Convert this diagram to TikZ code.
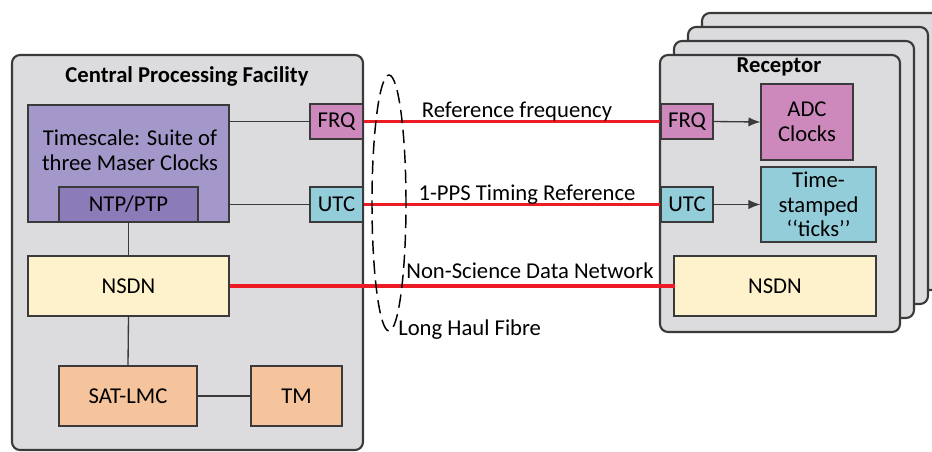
\documentclass[tikz,border=0pt]{standalone}
\usepackage{fontspec}
\setmainfont{Carlito}
\usetikzlibrary{shapes.geometric,arrows.meta}
\definecolor{panelgray}{HTML}{DCDCDE}
\definecolor{tspurple}{HTML}{A398C9}
\definecolor{ntppurple}{HTML}{8B7CB9}
\definecolor{frqpink}{HTML}{CD88BC}
\definecolor{utcblue}{HTML}{94CDDA}
\definecolor{nsdnyel}{HTML}{FEF2CC}
\definecolor{orng}{HTML}{F6C49C}
\definecolor{linkred}{HTML}{ED1C24}
\definecolor{edge}{HTML}{3A3A3A}
\tikzset{
  panel/.style={draw=edge, line width=1.6pt, rounded corners=6pt, fill=panelgray, inner sep=0pt},
  blk/.style={draw=edge, line width=0.8pt, inner sep=0pt, align=center, font=\fontsize{17}{18.5}\selectfont},
  ttl/.style={font=\fontsize{17}{19}\selectfont\bfseries, inner sep=0pt},
  lbl/.style={font=\fontsize{17}{19}\selectfont, inner sep=0pt},
  conn/.style={draw=edge, line width=1pt},
  redthin/.style={draw=linkred, line width=1.6pt},
  redthick/.style={draw=linkred, line width=3.6pt},
  arr/.style={draw=edge, line width=1pt, -{Latex[length=9pt,width=7pt]}},
}
\begin{document}
\begin{tikzpicture}[x=0.75pt,y=-0.75pt]
\useasboundingbox (0,0) rectangle (932,451);
% Central processing facility
\node[panel, minimum width=351*0.75pt, minimum height=395*0.75pt] (cpf) at (187.5,252.5) {};
\node[ttl] (cpftitle) at (187,76) {Central Processing Facility};
\node[blk, fill=tspurple, minimum width=201*0.75pt, minimum height=117*0.75pt] (ts) at (128.5,163.5) {};
\node[lbl, align=center] (tstext) at (130,150) {Timescale: Suite of\\three Maser Clocks};
\node[blk, fill=ntppurple, minimum width=139*0.75pt, minimum height=35*0.75pt] (ntp) at (128.5,204.5) {NTP/PTP};
\node[blk, fill=frqpink, minimum width=53*0.75pt, minimum height=35*0.75pt] (frq1) at (336.5,121.5) {FRQ};
\node[blk, fill=utcblue, minimum width=53*0.75pt, minimum height=35*0.75pt] (utc1) at (336.5,204.5) {UTC};
\node[blk, fill=nsdnyel, minimum width=201*0.75pt, minimum height=60*0.75pt] (nsdn1) at (128.5,286) {NSDN};
\node[blk, fill=orng, minimum width=138*0.75pt, minimum height=60*0.75pt] (sat) at (128,396) {SAT-LMC};
\node[blk, fill=orng, minimum width=91*0.75pt, minimum height=60*0.75pt] (tm) at (296.5,396) {TM};
% Receptor stack
\node[panel, minimum width=240*0.75pt, minimum height=277*0.75pt] (rec4) at (822,151.5) {};
\node[panel, minimum width=240*0.75pt, minimum height=277*0.75pt] (rec3) at (808,165.5) {};
\node[panel, minimum width=240*0.75pt, minimum height=277*0.75pt] (rec2) at (794,179.5) {};
\node[panel, minimum width=240*0.75pt, minimum height=277*0.75pt] (rec) at (780,193.5) {};
\node[ttl] (rectitle) at (779,67) {Receptor};
\node[blk, fill=frqpink, minimum width=52*0.75pt, minimum height=35*0.75pt] (frq2) at (687,121.5) {FRQ};
\node[blk, fill=utcblue, minimum width=52*0.75pt, minimum height=35*0.75pt] (utc2) at (687,204.5) {UTC};
\node[blk, fill=frqpink, minimum width=92*0.75pt, minimum height=76*0.75pt] (adc) at (807,122) {ADC\\Clocks};
\node[blk, fill=utcblue, minimum width=115*0.75pt, minimum height=75*0.75pt] (tsd) at (818.5,204.5) {Time-\\stamped\\‘‘ticks’’};
\node[blk, fill=nsdnyel, minimum width=202*0.75pt, minimum height=60*0.75pt] (nsdn2) at (775,286) {NSDN};
% internal connectors
\draw[conn] (ts.east |- frq1) -- (frq1.west);
\draw[conn] (ts.east |- utc1) -- (utc1.west);
\draw[conn] (ntp.south) -- (nsdn1.north);
\draw[conn] (nsdn1.south) -- (sat.north);
\draw[conn] (sat.east) -- (tm.west);
\draw[arr] (frq2.east) -- (adc.west);
\draw[arr] (utc2.east) -- (tsd.west);
% long haul links
\draw[redthin] (frq1.east) -- (frq2.west);
\draw[redthin] (utc1.east) -- (utc2.west);
\coordinate (nsdnend) at ([xshift=2*0.75pt]nsdn2.west);
\draw[redthick] (nsdn1.east) -- (nsdnend);
\node[draw=black, line width=1.1pt, dash pattern=on 10pt off 5pt, ellipse, minimum width=34*0.75pt, minimum height=256*0.75pt, inner sep=0pt] (fibre) at (389,203) {};
\node[lbl] (reflbl) at (517,112) {Reference frequency};
\node[lbl] (ppslbl) at (527,195) {1-PPS Timing Reference};
\node[lbl] (nsdnlbl) at (530,271) {Non-Science Data Network};
\node[lbl, anchor=west] (fibrelbl) at (398,330) {Long Haul Fibre};
\end{tikzpicture}
\end{document}
